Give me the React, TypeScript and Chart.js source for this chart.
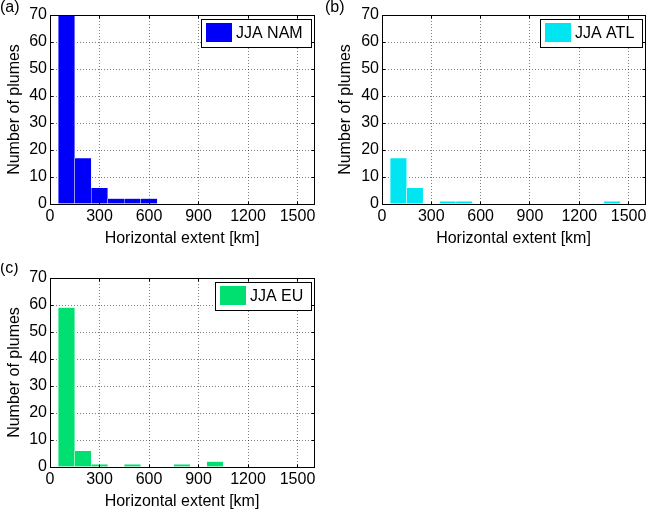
import React, { useEffect, useRef } from 'react';
import { Chart, registerables } from 'chart.js';

Chart.register(...registerables);

// ---- data ----
const xTicks = [0, 300, 600, 900, 1200, 1500];
const yTicks = [0, 10, 20, 30, 40, 50, 60, 70];
const xMax = 1600;
const yMax = 70;

const namBins = [100, 200, 300, 400, 500, 600];
const namCounts = [72, 17, 6, 2, 2, 2];

const atlBins = [100, 200, 400, 500, 1400];
const atlCounts = [17, 6, 1, 1, 1];

const euBins = [100, 200, 300, 500, 800, 1000];
const euCounts = [59, 6, 1, 1, 1, 2];

const xTitle = 'Horizontal extent [km]';
const yTitle = 'Number of plumes';

const FONT = "'Liberation Sans', Arial, Helvetica, sans-serif";
const W = 323;
const H = 250;

type PanelCfg = {
  id: string;
  panel: string;
  label: string;
  bins: number[];
  counts: number[];
  color: string;
  left: number;
  top: number;
  yAxisW: number;
  padRight: number;
  yTitlePad: number;
  panelX: number;
  panelY: number;
};

const panels: PanelCfg[] = [
  { id: 'a', panel: '(a)', label: 'JJA NAM', bins: namBins, counts: namCounts, color: '#0000fa',
    left: 0, top: 0, yAxisW: 50, padRight: 9, yTitlePad: 5, panelX: 0, panelY: 8 },
  { id: 'b', panel: '(b)', label: 'JJA ATL', bins: atlBins, counts: atlCounts, color: '#00e5f2',
    left: 323, top: 0, yAxisW: 59, padRight: 1, yTitlePad: 13, panelX: 2, panelY: 8 },
  { id: 'c', panel: '(c)', label: 'JJA EU', bins: euBins, counts: euCounts, color: '#00e070',
    left: 0, top: 263, yAxisW: 50, padRight: 9, yTitlePad: 5, panelX: 0, panelY: 6 },
];

const align = (v: number) => Math.round(v - 0.5) + 0.5;

const decorPlugin = {
  id: 'decor',
  afterDatasetsDraw(chart: any) {
    const { ctx, chartArea: a } = chart;
    const xs = chart.scales.x;
    const ys = chart.scales.y;
    const L = align(a.left), R = align(a.right), T = align(a.top), B = align(a.bottom);
    const tl = 3;
    ctx.save();
    ctx.strokeStyle = '#000';
    ctx.lineWidth = 1;
    ctx.setLineDash([]);
    ctx.beginPath();
    xs.ticks.forEach((t: any) => {
      const px = align(xs.getPixelForValue(t.value));
      ctx.moveTo(px, B); ctx.lineTo(px, B - tl);
      ctx.moveTo(px, T); ctx.lineTo(px, T + tl);
    });
    ys.ticks.forEach((t: any) => {
      const py = align(ys.getPixelForValue(t.value));
      ctx.moveTo(L, py); ctx.lineTo(L + tl, py);
      ctx.moveTo(R, py); ctx.lineTo(R - tl, py);
    });
    ctx.stroke();
    ctx.strokeRect(L, T, R - L, B - T);
    ctx.restore();
  },
  afterDraw(chart: any, _args: any, opts: any) {
    const { ctx, chartArea: a } = chart;
    const ds = chart.data.datasets[0];
    ctx.save();
    ctx.font = `16px ${FONT}`;
    ctx.textBaseline = 'middle';
    ctx.textAlign = 'left';
    const tw = ctx.measureText(ds.label).width;
    const h = 28;
    const w = Math.round(5 + 26 + 4 + tw + 8);
    const right = Math.round(a.right - 3);
    const top = Math.round(a.top + 4);
    const left = right - w;
    ctx.fillStyle = '#fff';
    ctx.fillRect(left, top, w, h);
    ctx.strokeStyle = '#000';
    ctx.lineWidth = 1;
    ctx.strokeRect(left + 0.5, top + 0.5, w, h);
    ctx.fillStyle = ds.backgroundColor;
    ctx.fillRect(left + 5, top + 4, 26, 19);
    ctx.fillStyle = '#000';
    ctx.fillText(ds.label, left + 35, top + h / 2 + 0.5);
    // panel label
    ctx.fillText(opts.panel, opts.panelX, opts.panelY);
    ctx.restore();
  },
};

function makeConfig(p: PanelCfg): any {
  const font = { family: FONT, size: 16 };
  return {
    type: 'bar',
    data: {
      datasets: [
        {
          label: p.label,
          data: p.bins.map((x, i) => ({ x, y: p.counts[i] })),
          backgroundColor: p.color,
          borderColor: '#ffffff',
          borderWidth: 0.5,
          barPercentage: 1,
          categoryPercentage: 1,
        },
      ],
    },
    options: {
      responsive: false,
      animation: false,
      events: [],
      layout: { padding: { left: 0, right: p.padRight, top: 15, bottom: 0 } },
      plugins: {
        legend: { display: false },
        tooltip: { enabled: false },
        decor: { panel: p.panel, panelX: p.panelX, panelY: p.panelY },
      },
      scales: {
        x: {
          type: 'linear',
          min: 0,
          max: xMax,
          offset: false,
          afterBuildTicks: (s: any) => {
            s.ticks = xTicks.map((v) => ({ value: v }));
          },
          afterFit: (s: any) => {
            s.height = H - 204;
            s.paddingLeft = 0;
            s.paddingRight = 0;
          },
          ticks: {
            font, color: '#000', padding: 3, maxRotation: 0, minRotation: 0, autoSkip: false,
            callback: (v: any) => String(v),
          },
          grid: { offset: false, color: 'rgba(0,0,0,0.5)', lineWidth: 1, drawTicks: false },
          border: { display: false, dash: [1, 2] },
          title: { display: true, text: xTitle, font, color: '#000', padding: { top: 0, bottom: 2 } },
        },
        y: {
          type: 'linear',
          min: 0,
          max: yMax,
          afterBuildTicks: (s: any) => {
            s.ticks = yTicks.map((v) => ({ value: v }));
          },
          afterFit: (s: any) => {
            s.width = p.yAxisW;
            s.paddingTop = 0;
            s.paddingBottom = 0;
          },
          ticks: { font, color: '#000', padding: 3, autoSkip: false, callback: (v: any) => String(v) },
          grid: { color: 'rgba(0,0,0,0.5)', lineWidth: 1, drawTicks: false },
          border: { display: false, dash: [1, 2] },
          title: { display: true, text: yTitle, font, color: '#000', padding: { top: p.yTitlePad, bottom: 0 } },
        },
      },
    },
    plugins: [decorPlugin],
  };
}

function Panel({ cfg }: { cfg: PanelCfg }) {
  const ref = useRef<HTMLCanvasElement>(null);
  useEffect(() => {
    const chart = new Chart(ref.current as HTMLCanvasElement, makeConfig(cfg));
    return () => chart.destroy();
  }, [cfg]);
  return (
    <canvas
      ref={ref}
      width={W}
      height={H}
      style={{ position: 'absolute', left: cfg.left, top: cfg.top, width: W, height: H }}
    />
  );
}

export default function App() {
  useEffect(() => {
    document.body.style.margin = '0';
  }, []);
  return (
    <div
      style={{
        position: 'fixed',
        left: 0,
        top: 0,
        width: 646,
        height: 509,
        overflow: 'hidden',
        background: '#ffffff',
      }}
    >
      {panels.map((p) => (
        <Panel key={p.id} cfg={p} />
      ))}
    </div>
  );
}
